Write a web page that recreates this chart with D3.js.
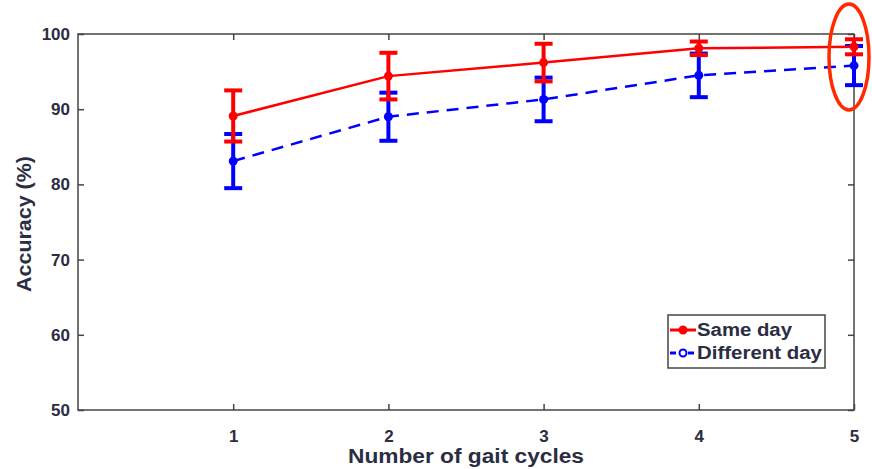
<!DOCTYPE html>
<html><head><meta charset="utf-8">
<script src="https://cdn.jsdelivr.net/npm/d3@7"></script>
<style>body{margin:0;background:#fff}svg{display:block}</style>
</head><body><svg id="c" width="872" height="469"></svg>
<script>
const cycles = [1, 2, 3, 4, 5];
const sameDay = [89.1, 94.4, 96.2, 98.1, 98.3];
const sameDayErr = [3.4, 3.1, 2.5, 0.9, 1.0];
const diffDay = [83.1, 89.0, 91.3, 94.5, 95.8];
const diffDayErr = [3.6, 3.2, 2.9, 2.9, 2.6];
const yTicks = [50, 60, 70, 80, 90, 100];
const xTicks = [1, 2, 3, 4, 5];

const svg = d3.select('#c');
const L = 78, R = 854, T = 34, B = 410;
const x = d3.scaleLinear().domain([0, 5]).range([L, R]);
const y = d3.scaleLinear().domain([50, 100]).range([B, T]);
const axisColor = '#444';
const textColor = '#2b2d42';
const font = '"Liberation Sans", Arial, sans-serif';

svg.append('rect').attr('x', L).attr('y', T).attr('width', R - L).attr('height', B - T)
  .attr('fill', 'none').attr('stroke', axisColor).attr('stroke-width', 1.5);

const gx = svg.append('g').attr('transform', `translate(0,${B})`)
  .call(d3.axisBottom(x).tickValues(xTicks).tickSize(-6).tickPadding(20).tickFormat(d3.format('d')));
const gy = svg.append('g').attr('transform', `translate(${L},0)`)
  .call(d3.axisLeft(y).tickValues(yTicks).tickSize(-6).tickPadding(8).tickFormat(d3.format('d')));
const gxt = svg.append('g').attr('transform', `translate(0,${T})`)
  .call(d3.axisTop(x).tickValues(xTicks).tickSize(-6).tickFormat(''));
const gyr = svg.append('g').attr('transform', `translate(${R},0)`)
  .call(d3.axisRight(y).tickValues(yTicks).tickSize(-6).tickFormat(''));
[gx, gy, gxt, gyr].forEach(g => {
  g.select('.domain').remove();
  g.selectAll('.tick line').attr('stroke', axisColor).attr('stroke-width', 1.5);
  g.selectAll('.tick text').attr('fill', textColor).attr('font-family', font)
    .attr('font-weight', 'bold').attr('font-size', 17);
});

svg.append('text').attr('x', 466).attr('y', 463).attr('text-anchor', 'middle')
  .attr('font-family', font).attr('font-weight', 'bold').attr('font-size', 20)
  .attr('textLength', 236).attr('lengthAdjust', 'spacingAndGlyphs')
  .attr('fill', textColor).text('Number of gait cycles');
svg.append('text').attr('transform', `translate(31,224) rotate(-90)`)
  .attr('text-anchor', 'middle').attr('font-family', font).attr('font-weight', 'bold')
  .attr('font-size', 20).attr('textLength', 136).attr('lengthAdjust', 'spacingAndGlyphs')
  .attr('fill', textColor).text('Accuracy (%)');

function series(vals, errs, color, dash) {
  const g = svg.append('g');
  const pts = cycles.map((c, i) => ({c, v: vals[i], e: errs[i]}));
  g.append('path').datum(pts).attr('fill', 'none').attr('stroke', color).attr('stroke-width', 2.5)
    .attr('stroke-dasharray', dash || null)
    .attr('d', d3.line().x(d => x(d.c)).y(d => y(d.v)));
  const eb = g.selectAll('g.eb').data(pts).join('g');
  eb.append('line').attr('x1', d => x(d.c)).attr('x2', d => x(d.c))
    .attr('y1', d => y(d.v - d.e)).attr('y2', d => y(d.v + d.e))
    .attr('stroke', color).attr('stroke-width', 4);
  [-1, 1].forEach(s => {
    eb.append('line').attr('x1', d => x(d.c) - 9).attr('x2', d => x(d.c) + 9)
      .attr('y1', d => y(d.v + s * d.e)).attr('y2', d => y(d.v + s * d.e))
      .attr('stroke', color).attr('stroke-width', 4);
  });
  g.selectAll('circle').data(pts).join('circle').attr('cx', d => x(d.c)).attr('cy', d => y(d.v))
    .attr('r', 4.5).attr('fill', color);
}
series(diffDay, diffDayErr, '#0000ff', '12,8');
series(sameDay, sameDayErr, '#ff0000', null);

const lg = svg.append('g');
lg.append('rect').attr('x', 668).attr('y', 315).attr('width', 157).attr('height', 53)
  .attr('fill', '#fff').attr('stroke', axisColor).attr('stroke-width', 1.5);
const items = [{t: 'Same day', c: '#ff0000', dash: null, y: 330, fill: '#ff0000'},
               {t: 'Different day', c: '#0000ff', dash: '6,3', y: 353, fill: '#fff'}];
items.forEach(it => {
  lg.append('line').attr('x1', 670).attr('x2', 696).attr('y1', it.y).attr('y2', it.y)
    .attr('stroke', it.c).attr('stroke-width', 3).attr('stroke-dasharray', it.dash);
  lg.append('circle').attr('cx', 683).attr('cy', it.y).attr('r', 3.5)
    .attr('fill', it.fill).attr('stroke', it.c).attr('stroke-width', 2);
  lg.append('text').attr('x', 697).attr('y', it.y + 6).attr('font-family', font)
    .attr('font-weight', 'bold').attr('font-size', 18).attr('fill', textColor)
    .attr('textLength', it.t === 'Same day' ? 95 : 125).attr('lengthAdjust', 'spacingAndGlyphs')
    .text(it.t);
});

svg.append('ellipse').attr('cx', 849).attr('cy', 57).attr('rx', 20).attr('ry', 53)
  .attr('fill', 'none').attr('stroke', '#ff2a00').attr('stroke-width', 3.5);
</script></body></html>
